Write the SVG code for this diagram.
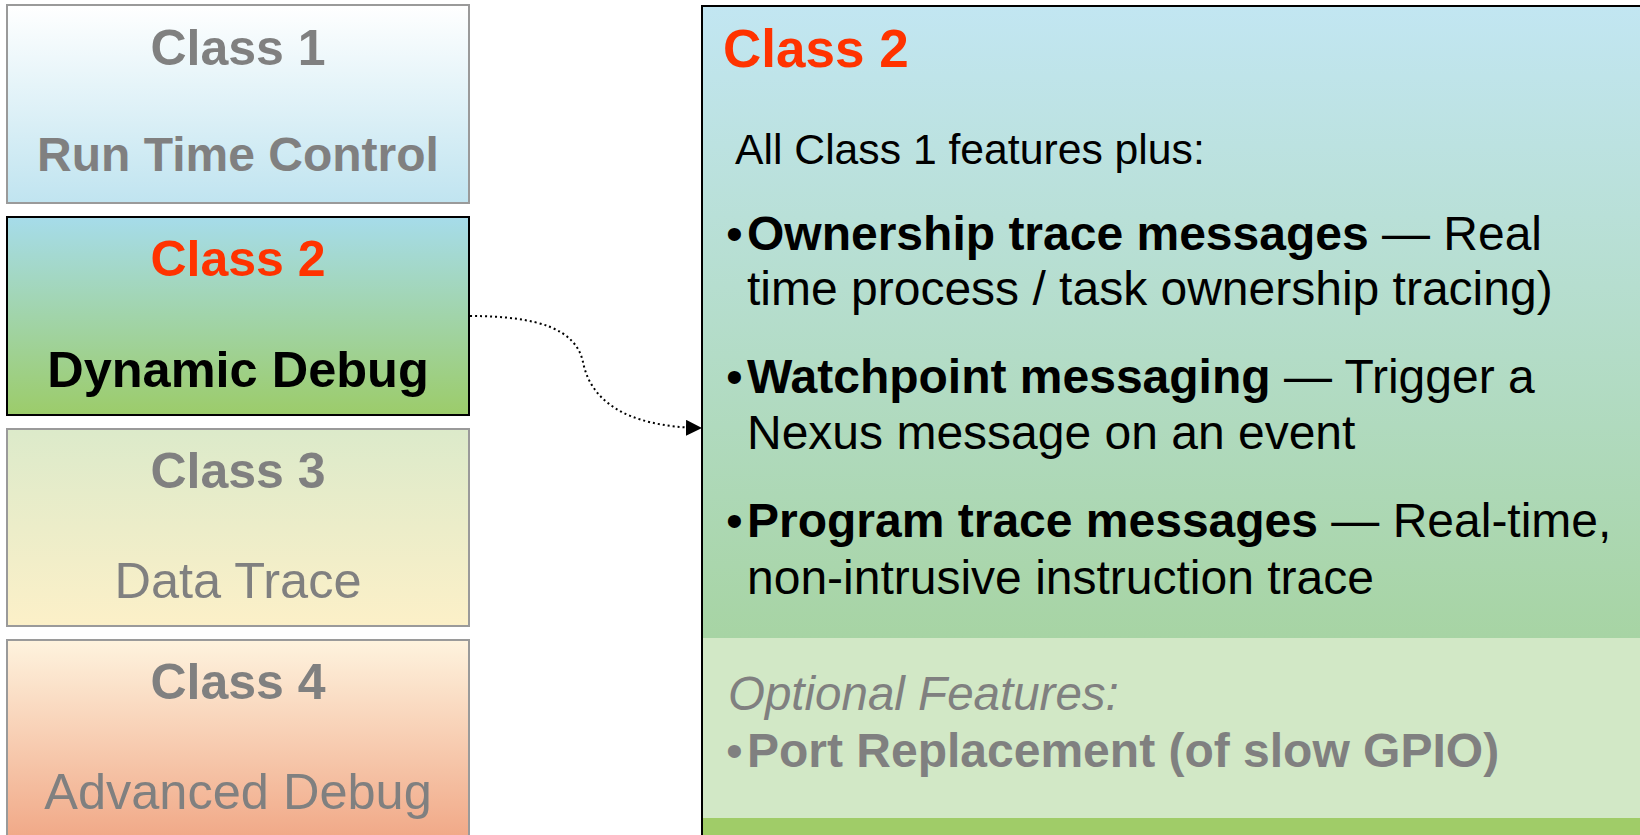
<svg xmlns="http://www.w3.org/2000/svg" width="1640" height="835" viewBox="0 0 1640 835">
<defs>
<linearGradient id="g1" x1="0" y1="0" x2="0" y2="1"><stop offset="0" stop-color="#FFFFFF"/><stop offset="1" stop-color="#C0E4F0"/></linearGradient>
<linearGradient id="g2" x1="0" y1="0" x2="0" y2="1"><stop offset="0" stop-color="#A6DCEA"/><stop offset="1" stop-color="#9CCC6A"/></linearGradient>
<linearGradient id="g3" x1="0" y1="0" x2="0" y2="1"><stop offset="0" stop-color="#DCEACA"/><stop offset="1" stop-color="#FCF0C8"/></linearGradient>
<linearGradient id="g4" x1="0" y1="0" x2="0" y2="1"><stop offset="0" stop-color="#FEF3DE"/><stop offset="1" stop-color="#F0A482"/></linearGradient>
<linearGradient id="gp" x1="0" y1="0" x2="0" y2="1"><stop offset="0" stop-color="#C2E6F2"/><stop offset="1" stop-color="#9ECE8A"/></linearGradient>
<marker id="arr" markerUnits="userSpaceOnUse" markerWidth="18" markerHeight="16" refX="16" refY="8" orient="auto"><path d="M0,0 L16,8 L0,16 Z" fill="#000"/></marker>
<style>
.t{font-family:"Liberation Sans",Arial,sans-serif;}
.b{font-weight:bold;}
.gray{fill:#808080;}
.red{fill:#FF3300;}
.box{stroke:#9A9A9A;stroke-width:2;}
.c{text-anchor:middle;font-size:50px;}
.c2{text-anchor:middle;font-size:50.5px;}
.p{font-size:48px;fill:#000;}
</style>
</defs>
<g id="class1">
<rect class="box" x="7" y="5" width="462" height="198" fill="url(#g1)"/>
<text class="t b c gray" x="238" y="65">Class 1</text>
<text class="t b c2 gray" x="238" y="171" font-size="48" style="font-size:48px">Run Time Control</text>
</g>
<g id="class2">
<rect x="7" y="217" width="462" height="198" fill="url(#g2)" stroke="#000" stroke-width="2"/>
<text class="t b c red" x="238" y="276">Class 2</text>
<text class="t b c2" x="238" y="387" fill="#000">Dynamic Debug</text>
</g>
<g id="class3">
<rect class="box" x="7" y="429" width="462" height="197" fill="url(#g3)"/>
<text class="t b c gray" x="238" y="488">Class 3</text>
<text class="t c2 gray" x="238" y="598">Data Trace</text>
</g>
<g id="class4">
<rect class="box" x="7" y="640" width="462" height="210" fill="url(#g4)"/>
<text class="t b c gray" x="238" y="699">Class 4</text>
<text class="t c2 gray" x="238" y="809">Advanced Debug</text>
</g>
<g id="detail">
<rect x="702" y="6" width="950" height="840" fill="url(#gp)" stroke="#000" stroke-width="2"/>
<rect x="703" y="638" width="940" height="180" fill="#D2E8C6"/>
<rect x="703" y="818" width="940" height="20" fill="#A0CC68"/>
<text class="t b red" x="723" y="67" font-size="53">Class 2</text>
<text class="t" x="735" y="164" font-size="42.7" fill="#000">All Class 1 features plus:</text>
<text class="t p" x="726" y="250">•</text>
<text class="t p" x="747" y="250"><tspan font-weight="bold">Ownership trace messages</tspan> — Real</text>
<text class="t p" x="747" y="305">time process / task ownership tracing)</text>
<text class="t p" x="726" y="393">•</text>
<text class="t p" x="747" y="393"><tspan font-weight="bold">Watchpoint messaging</tspan> — Trigger a</text>
<text class="t p" x="747" y="449">Nexus message on an event</text>
<text class="t p" x="726" y="537">•</text>
<text class="t p" x="747" y="537"><tspan font-weight="bold">Program trace messages</tspan> — Real-time,</text>
<text class="t p" x="747" y="594">non-intrusive instruction trace</text>
<text class="t gray" x="728" y="710" font-size="47.5" font-style="italic">Optional Features:</text>
<text class="t gray" x="726" y="767" font-size="48">•</text>
<text class="t b gray" x="747" y="767" font-size="48">Port Replacement (of slow GPIO)</text>
</g>
<g id="connectors">
<path d="M470,316 C540,316 576,330 583,362 C590,398 622,427 702,428" fill="none" stroke="#000" stroke-width="2" stroke-dasharray="2 3" marker-end="url(#arr)"/>
</g>
</svg>
